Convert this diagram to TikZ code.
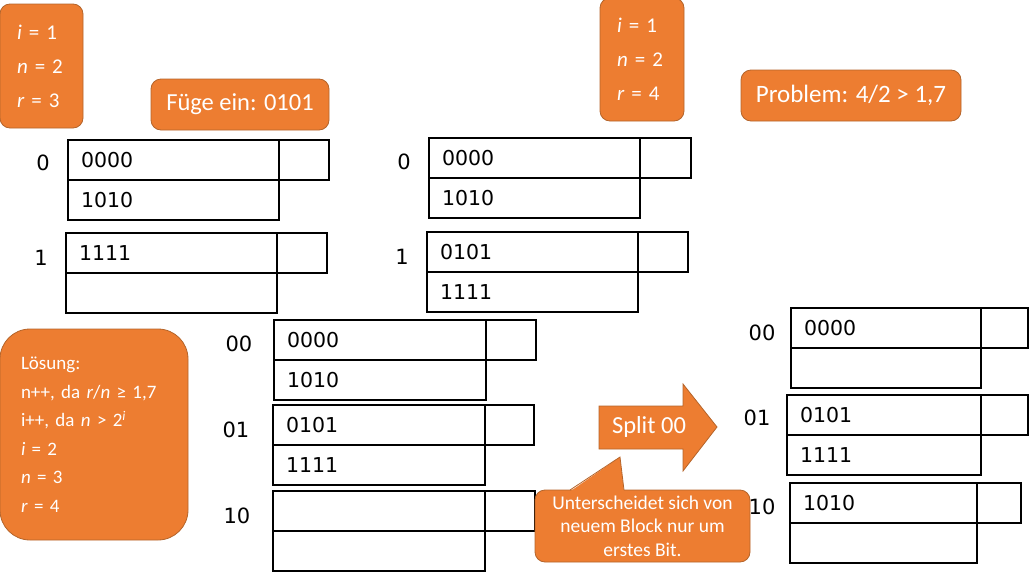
\documentclass[tikz,border=0pt]{standalone}
\usepackage{fontspec}
\setmainfont{Carlito}
\newfontfamily\bitfont{DejaVu Sans}
\usetikzlibrary{positioning}
\definecolor{boxorange}{HTML}{ED7D31}
\definecolor{boxedge}{HTML}{B4642A}

\tikzset{
  note/.style={fill=boxorange, draw=boxedge, line width=0.8pt, rounded corners=10pt, text=white},
  cell/.style={draw, line width=1.1pt, outer sep=0pt, minimum height=40pt, inner xsep=13pt, inner ysep=0pt, align=left, anchor=north west, font=\bitfont\fontsize{20.5}{20.5}\selectfont},
  ovf/.style={draw, line width=1.1pt, outer sep=0pt, minimum height=40pt, inner sep=0pt, anchor=north west},
  idx/.style={font=\bitfont\fontsize{21}{21}\selectfont},
}

\begin{document}
\begin{tikzpicture}[x=1pt, y=-1pt]
		\useasboundingbox (0,0) rectangle (1029,573);

		% before insert
		\node[note, minimum width=83pt, minimum height=124pt, text width=49pt, inner xsep=17pt, align=left, font=\fontsize{21}{34}\selectfont] (state1) at (41.5,66) {\textit{i} = 1\\\textit{n} = 2\\\textit{r} = 3};
		\node[note, minimum width=178pt, minimum height=51pt, font=\fontsize{24.5}{24.5}\selectfont] (insert) at (240,104.5) {Füge ein: 0101};
		\node[idx] (lA0) at (43,163) {0};
		\node[cell, text width=185pt] (A0top) at (68,140) {0000};
		\node[cell, text width=185pt] (A0bot) at (A0top.south west) {1010};
		\node[ovf, minimum width=50pt] (A0ovf) at (A0top.north east) {};
		\node[idx] (lA1) at (41,258) {1};
		\node[cell, text width=185pt] (A1top) at (66,233) {1111};
		\node[cell, text width=185pt] (A1bot) at (A1top.south west) {};
		\node[ovf, minimum width=50pt] (A1ovf) at (A1top.north east) {};

		% after insert
		\node[note, minimum width=84pt, minimum height=123pt, text width=50pt, inner xsep=17pt, align=left, font=\fontsize{21}{34}\selectfont] (state2) at (642,59.5) {\textit{i} = 1\\\textit{n} = 2\\\textit{r} = 4};
		\node[note, minimum width=220pt, minimum height=51pt, font=\fontsize{25}{25}\selectfont] (problem) at (851,95.5) {Problem: 4/2 > 1,7};
		\node[idx] (lB0) at (404,162) {0};
		\node[cell, text width=185pt] (B0top) at (429,138) {0000};
		\node[cell, text width=185pt] (B0bot) at (B0top.south west) {1010};
		\node[ovf, minimum width=51pt] (B0ovf) at (B0top.north east) {};
		\node[idx] (lB1) at (402,257) {1};
		\node[cell, text width=185pt] (B1top) at (427,232) {0101};
		\node[cell, text width=185pt] (B1bot) at (B1top.south west) {1111};
		\node[ovf, minimum width=50pt] (B1ovf) at (B1top.north east) {};

		% new bucket
		\node[note, rounded corners=30pt, minimum width=188pt, minimum height=211pt, text width=146pt, inner xsep=21pt, align=left, font=\fontsize{19}{28.5}\selectfont] (solution) at (94,434.5) {Lösung:\\n++, da \textit{r}/\textit{n} ≥ 1,7\\i++, da \textit{n} > 2\textsuperscript{\textit{i}}\\\textit{i} = 2\\\textit{n} = 3\\\textit{r} = 4};
		\node[idx] (lC00) at (239,344) {00};
		\node[cell, text width=186pt] (C00top) at (274,320) {0000};
		\node[cell, text width=186pt] (C00bot) at (C00top.south west) {1010};
		\node[ovf, minimum width=50pt] (C00ovf) at (C00top.north east) {};
		\node[idx] (lC01) at (236,430) {01};
		\node[cell, text width=186pt] (C01top) at (273,405) {0101};
		\node[cell, text width=186pt] (C01bot) at (C01top.south west) {1111};
		\node[ovf, minimum width=49pt] (C01ovf) at (C01top.north east) {};
		\node[idx] (lC10) at (237,516) {10};
		\node[cell, text width=186pt] (C10top) at (273,491) {};
		\node[cell, text width=186pt] (C10bot) at (C10top.south west) {};
		\node[ovf, minimum width=50pt] (C10ovf) at (C10top.north east) {};

		% after split
		\draw[note, rounded corners=0pt] (599,406) -- (683,406) -- (683,384) -- (717,427) -- (683,471) -- (683,449) -- (599,449) -- cycle;
		\node[text=white, font=\fontsize{24.5}{24.5}\selectfont] (split) at (649,427) {Split 00};
		\node[idx] (lD00) at (762,333) {00};
		\node[cell, text width=164pt] (D00top) at (791,308) {0000};
		\node[cell, text width=164pt] (D00bot) at (D00top.south west) {};
		\node[ovf, minimum width=47pt] (D00ovf) at (D00top.north east) {};
		\node[idx] (lD01) at (757,418) {01};
		\node[cell, text width=168pt] (D01top) at (787,395) {0101};
		\node[cell, text width=168pt] (D01bot) at (D01top.south west) {1111};
		\node[ovf, minimum width=47pt] (D01ovf) at (D01top.north east) {};
		\node[idx] (lD10) at (762,507) {10};
		\node[cell, text width=161pt] (D10top) at (790,483) {1010};
		\node[cell, text width=161pt] (D10bot) at (D10top.south west) {};
		\node[ovf, minimum width=44pt] (D10ovf) at (D10top.north east) {};

		% callout
		\node[note, minimum width=215pt, minimum height=72pt, align=center, font=\fontsize{19.5}{23.5}\selectfont] (hint) at (642.5,526) {Unterscheidet sich von\\neuem Block nur um\\erstes Bit.};
		\coordinate (tip) at (620,457);
		\fill[boxorange] (570,491.5) -- (tip) -- (624,491.5) -- cycle;
		\draw[boxedge, line width=0.8pt] (570,490) -- (tip) -- (624,490);
	\end{tikzpicture}
\end{document}
